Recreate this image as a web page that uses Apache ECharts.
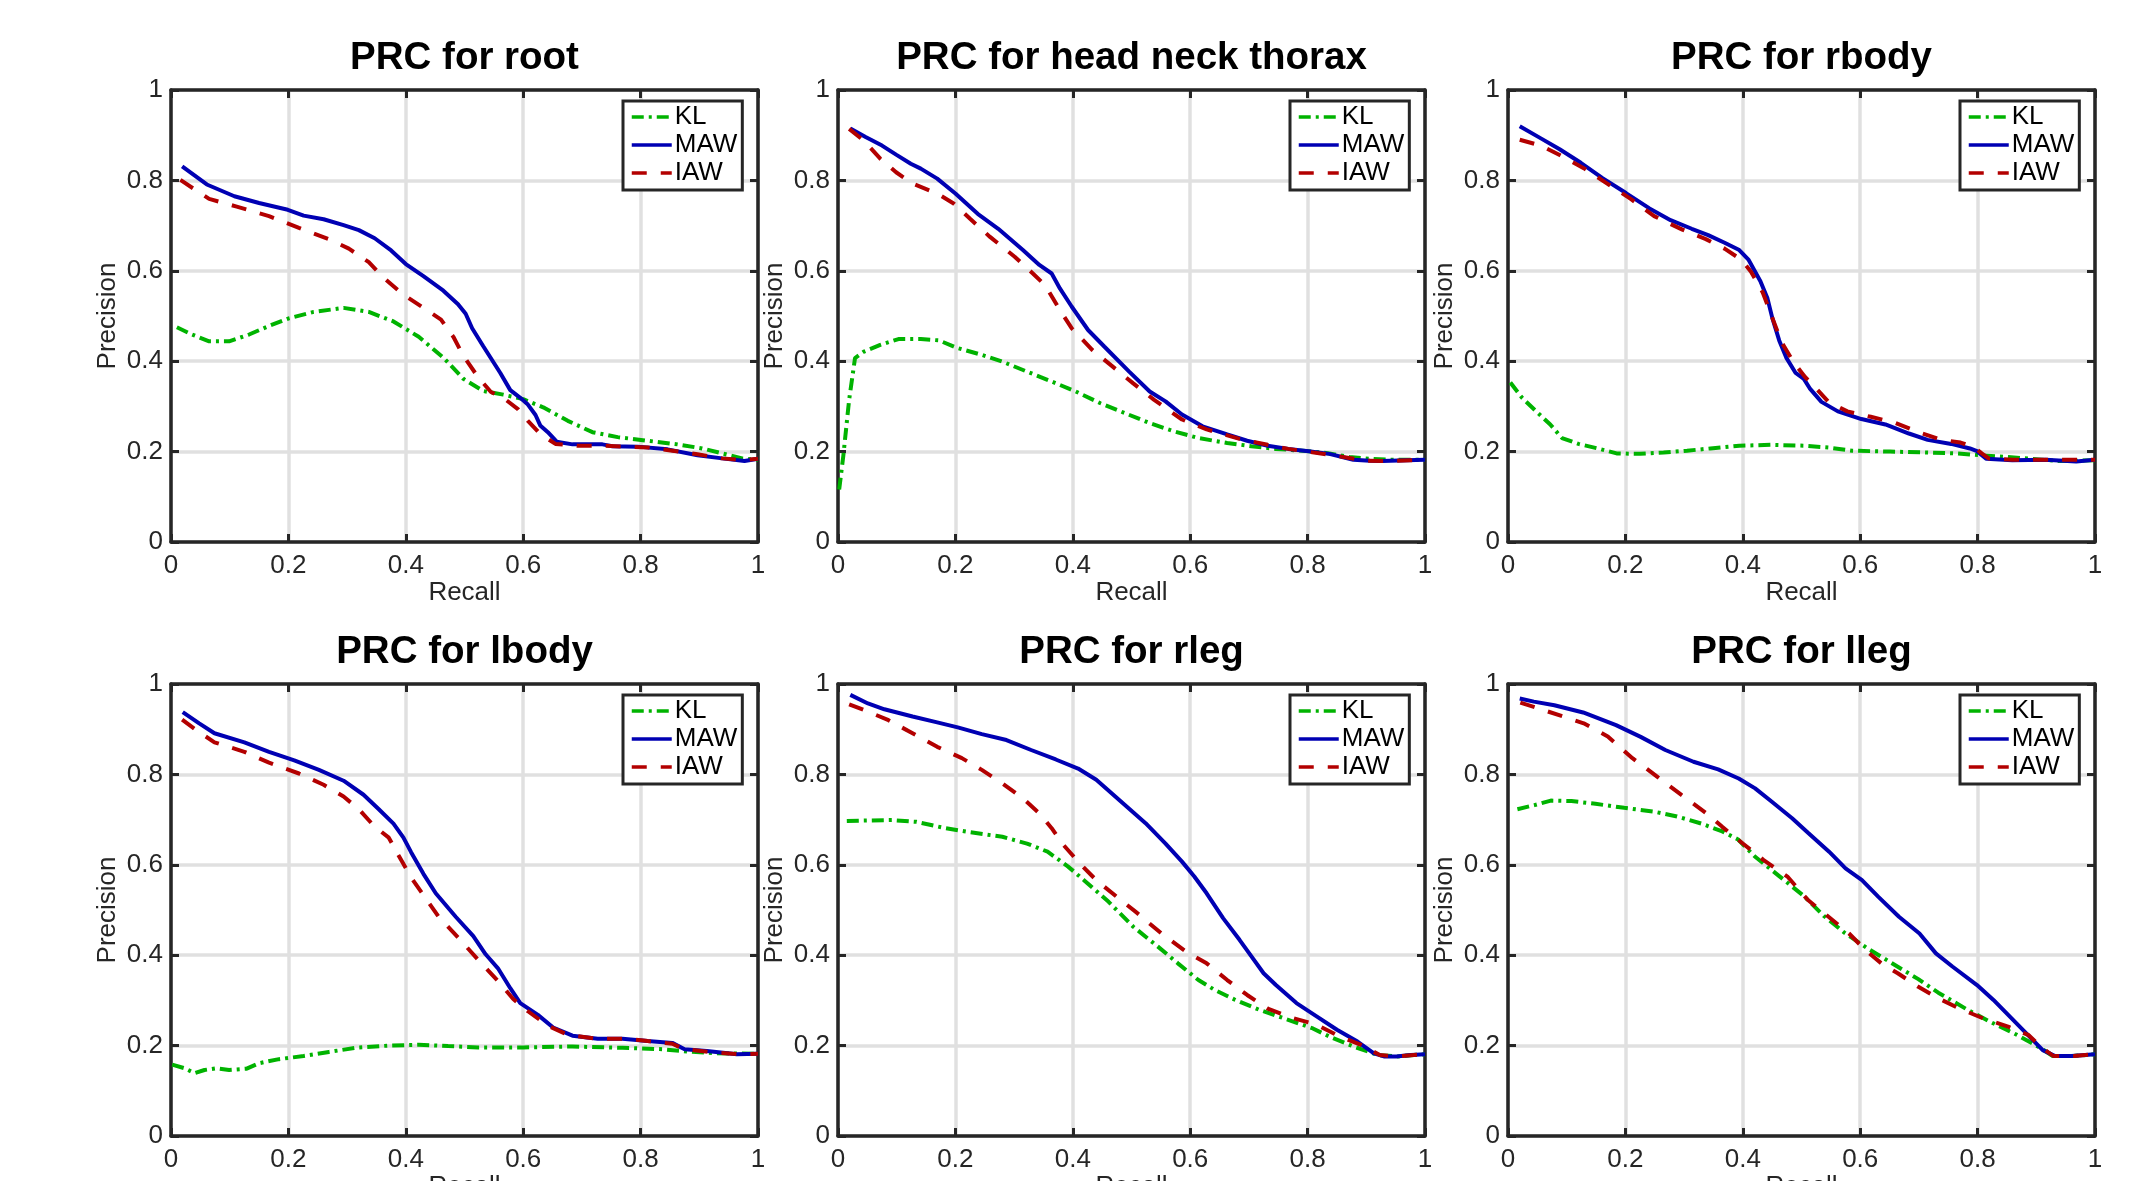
<!DOCTYPE html>
<html>
<head>
<meta charset="utf-8">
<script src="https://cdn.jsdelivr.net/npm/echarts@6/dist/echarts.min.js"></script>
<style>
  html, body { margin: 0; padding: 0; background: #fff; }
  #main { width: 2139px; height: 1181px; }
</style>
</head>
<body>
<div id="main"></div>
<script>
// panel titles, in row order
var titles = ['PRC for root', 'PRC for head neck thorax', 'PRC for rbody',
    'PRC for lbody', 'PRC for rleg', 'PRC for lleg'];
var seriesNames = ['KL', 'MAW', 'IAW'];

// [recall, precision]
var rootKL = [[0.010,0.475],[0.036,0.459],[0.065,0.444],[0.099,0.444],[0.133,0.459],[0.167,0.478],[0.201,0.495],[0.243,0.509],[0.294,0.518],[0.337,0.509],[0.379,0.488],[0.422,0.454],[0.464,0.408],[0.498,0.361],[0.532,0.334],[0.566,0.326],[0.600,0.316],[0.634,0.298],[0.676,0.268],[0.718,0.243],[0.761,0.232],[0.812,0.224],[0.863,0.216],[0.905,0.207],[0.939,0.196],[0.973,0.185],[1.0,0.182]];
var rootMAW = [[0.019,0.831],[0.061,0.791],[0.108,0.765],[0.150,0.750],[0.199,0.735],[0.226,0.722],[0.260,0.714],[0.294,0.701],[0.320,0.690],[0.347,0.672],[0.375,0.645],[0.400,0.615],[0.430,0.588],[0.464,0.556],[0.489,0.526],[0.502,0.505],[0.513,0.473],[0.532,0.433],[0.561,0.374],[0.578,0.336],[0.595,0.319],[0.608,0.304],[0.621,0.281],[0.629,0.258],[0.642,0.243],[0.657,0.222],[0.684,0.216],[0.735,0.216],[0.752,0.212],[0.795,0.211],[0.846,0.205],[0.897,0.192],[0.939,0.185],[0.977,0.179],[1.0,0.184]];
var rootIAW = [[0.016,0.801],[0.065,0.759],[0.112,0.742],[0.167,0.721],[0.218,0.695],[0.269,0.670],[0.303,0.649],[0.337,0.619],[0.362,0.585],[0.396,0.547],[0.430,0.518],[0.460,0.492],[0.481,0.454],[0.498,0.412],[0.523,0.365],[0.545,0.332],[0.566,0.319],[0.591,0.294],[0.608,0.268],[0.629,0.239],[0.655,0.217],[0.693,0.213],[0.735,0.213],[0.812,0.209],[0.854,0.202],[0.897,0.194],[0.939,0.185],[0.973,0.181],[1.0,0.184]];

var hntKL = [[0.002,0.116],[0.009,0.190],[0.019,0.315],[0.029,0.407],[0.044,0.421],[0.072,0.436],[0.103,0.449],[0.141,0.449],[0.172,0.446],[0.204,0.429],[0.245,0.414],[0.280,0.399],[0.322,0.377],[0.364,0.355],[0.405,0.333],[0.447,0.307],[0.489,0.285],[0.531,0.263],[0.572,0.245],[0.614,0.230],[0.663,0.219],[0.704,0.212],[0.746,0.206],[0.802,0.201],[0.837,0.196],[0.871,0.188],[0.906,0.184],[0.941,0.182],[1.0,0.182]];
var hntMAW = [[0.021,0.915],[0.047,0.896],[0.075,0.877],[0.099,0.857],[0.124,0.837],[0.141,0.826],[0.169,0.804],[0.200,0.771],[0.238,0.726],[0.273,0.693],[0.315,0.646],[0.343,0.613],[0.364,0.594],[0.378,0.561],[0.398,0.521],[0.426,0.469],[0.454,0.432],[0.496,0.377],[0.531,0.333],[0.558,0.311],[0.586,0.282],[0.621,0.256],[0.663,0.238],[0.697,0.224],[0.732,0.213],[0.767,0.206],[0.802,0.201],[0.837,0.195],[0.878,0.182],[0.906,0.180],[0.927,0.179],[0.969,0.181],[1.0,0.182]];
var hntIAW = [[0.019,0.914],[0.044,0.888],[0.072,0.848],[0.099,0.818],[0.127,0.793],[0.169,0.771],[0.197,0.749],[0.225,0.715],[0.259,0.675],[0.301,0.631],[0.332,0.594],[0.353,0.568],[0.378,0.513],[0.398,0.473],[0.433,0.425],[0.468,0.388],[0.503,0.351],[0.538,0.315],[0.586,0.271],[0.628,0.249],[0.684,0.228],[0.732,0.215],[0.767,0.206],[0.837,0.193],[0.871,0.186],[0.899,0.180],[0.934,0.179],[0.976,0.181],[1.0,0.182]];

var rbodyKL = [[0.004,0.353],[0.024,0.319],[0.048,0.289],[0.072,0.260],[0.092,0.230],[0.120,0.217],[0.153,0.207],[0.185,0.196],[0.225,0.195],[0.265,0.198],[0.305,0.202],[0.345,0.207],[0.394,0.213],[0.450,0.215],[0.506,0.213],[0.546,0.209],[0.586,0.202],[0.651,0.200],[0.715,0.198],[0.763,0.196],[0.803,0.192],[0.851,0.188],[0.892,0.184],[0.940,0.179],[1.0,0.181]];
var rbodyMAW = [[0.020,0.920],[0.056,0.893],[0.088,0.869],[0.124,0.839],[0.161,0.805],[0.201,0.772],[0.241,0.738],[0.277,0.712],[0.313,0.693],[0.341,0.679],[0.369,0.662],[0.394,0.646],[0.410,0.624],[0.430,0.577],[0.442,0.539],[0.450,0.497],[0.462,0.446],[0.474,0.408],[0.490,0.374],[0.504,0.361],[0.514,0.340],[0.534,0.310],[0.562,0.289],[0.602,0.272],[0.643,0.260],[0.683,0.240],[0.715,0.226],[0.755,0.217],[0.787,0.207],[0.799,0.201],[0.815,0.184],[0.859,0.181],[0.916,0.182],[0.968,0.178],[1.0,0.182]];
var rbodyIAW = [[0.020,0.890],[0.056,0.877],[0.088,0.856],[0.129,0.827],[0.169,0.793],[0.209,0.759],[0.249,0.721],[0.297,0.691],[0.337,0.670],[0.369,0.649],[0.398,0.624],[0.414,0.598],[0.434,0.552],[0.450,0.497],[0.466,0.442],[0.486,0.399],[0.506,0.365],[0.522,0.344],[0.546,0.310],[0.578,0.289],[0.618,0.277],[0.659,0.264],[0.699,0.243],[0.739,0.226],[0.771,0.220],[0.795,0.209],[0.807,0.196],[0.819,0.185],[0.859,0.182],[0.940,0.182],[1.0,0.182]];

var lbodyKL = [[0.002,0.158],[0.023,0.150],[0.040,0.139],[0.057,0.146],[0.078,0.150],[0.099,0.146],[0.129,0.149],[0.150,0.161],[0.184,0.170],[0.226,0.177],[0.269,0.186],[0.320,0.196],[0.371,0.200],[0.422,0.202],[0.472,0.199],[0.523,0.196],[0.600,0.196],[0.684,0.198],[0.769,0.195],[0.837,0.192],[0.880,0.187],[0.930,0.183],[1.0,0.182]];
var lbodyMAW = [[0.020,0.938],[0.048,0.913],[0.074,0.891],[0.125,0.871],[0.167,0.850],[0.210,0.831],[0.252,0.810],[0.294,0.786],[0.328,0.755],[0.354,0.723],[0.379,0.691],[0.396,0.660],[0.409,0.628],[0.430,0.580],[0.451,0.537],[0.485,0.485],[0.515,0.442],[0.536,0.402],[0.557,0.371],[0.578,0.327],[0.595,0.294],[0.625,0.268],[0.651,0.240],[0.684,0.222],[0.727,0.215],[0.769,0.215],[0.812,0.210],[0.854,0.206],[0.875,0.192],[0.913,0.188],[0.964,0.181],[1.0,0.182]];
var lbodyIAW = [[0.019,0.921],[0.044,0.897],[0.074,0.871],[0.125,0.850],[0.167,0.826],[0.218,0.802],[0.260,0.777],[0.294,0.751],[0.320,0.723],[0.345,0.687],[0.371,0.660],[0.388,0.620],[0.409,0.572],[0.430,0.533],[0.456,0.485],[0.490,0.438],[0.523,0.390],[0.557,0.343],[0.583,0.303],[0.608,0.276],[0.642,0.244],[0.676,0.224],[0.727,0.215],[0.778,0.215],[0.812,0.210],[0.854,0.204],[0.875,0.192],[0.930,0.184],[0.973,0.181],[1.0,0.182]];

var rlegKL = [[0.015,0.697],[0.051,0.698],[0.092,0.699],[0.134,0.695],[0.183,0.681],[0.225,0.672],[0.280,0.662],[0.322,0.647],[0.357,0.629],[0.392,0.596],[0.419,0.566],[0.461,0.518],[0.503,0.463],[0.545,0.419],[0.579,0.382],[0.614,0.345],[0.642,0.323],[0.677,0.301],[0.718,0.279],[0.767,0.257],[0.809,0.238],[0.837,0.220],[0.878,0.198],[0.920,0.179],[0.954,0.176],[1.0,0.181]];
var rlegMAW = [[0.021,0.976],[0.051,0.957],[0.079,0.944],[0.127,0.928],[0.169,0.915],[0.204,0.904],[0.245,0.889],[0.287,0.876],[0.329,0.854],[0.371,0.833],[0.409,0.813],[0.440,0.788],[0.482,0.740],[0.524,0.692],[0.558,0.647],[0.586,0.607],[0.607,0.574],[0.628,0.537],[0.656,0.482],[0.684,0.434],[0.704,0.398],[0.725,0.360],[0.746,0.334],[0.781,0.294],[0.816,0.264],[0.850,0.235],[0.885,0.209],[0.913,0.183],[0.930,0.176],[0.951,0.176],[0.976,0.179],[1.0,0.181]];
var rlegIAW = [[0.019,0.955],[0.051,0.939],[0.086,0.920],[0.127,0.891],[0.169,0.861],[0.211,0.836],[0.245,0.810],[0.280,0.780],[0.315,0.747],[0.343,0.714],[0.364,0.681],[0.384,0.644],[0.412,0.603],[0.440,0.566],[0.475,0.529],[0.510,0.493],[0.551,0.448],[0.593,0.408],[0.628,0.382],[0.663,0.345],[0.697,0.312],[0.732,0.282],[0.767,0.264],[0.816,0.246],[0.850,0.223],[0.892,0.201],[0.923,0.179],[0.954,0.176],[1.0,0.181]];

var llegKL = [[0.016,0.723],[0.045,0.732],[0.073,0.742],[0.108,0.741],[0.149,0.735],[0.198,0.726],[0.247,0.718],[0.288,0.707],[0.330,0.691],[0.365,0.674],[0.392,0.656],[0.420,0.619],[0.462,0.575],[0.504,0.531],[0.538,0.487],[0.573,0.450],[0.615,0.413],[0.657,0.380],[0.699,0.347],[0.733,0.317],[0.782,0.280],[0.824,0.251],[0.865,0.225],[0.907,0.195],[0.928,0.177],[0.963,0.177],[1.0,0.181]];
var llegMAW = [[0.020,0.968],[0.044,0.961],[0.079,0.953],[0.128,0.937],[0.184,0.909],[0.226,0.883],[0.268,0.854],[0.316,0.828],[0.358,0.811],[0.393,0.791],[0.421,0.769],[0.449,0.740],[0.484,0.703],[0.512,0.670],[0.547,0.629],[0.575,0.592],[0.603,0.566],[0.631,0.529],[0.666,0.485],[0.701,0.448],[0.729,0.404],[0.757,0.375],[0.799,0.334],[0.827,0.301],[0.855,0.264],[0.883,0.227],[0.911,0.190],[0.932,0.177],[0.960,0.177],[1.0,0.181]];
var llegIAW = [[0.021,0.959],[0.052,0.946],[0.094,0.928],[0.129,0.913],[0.170,0.884],[0.212,0.836],[0.254,0.795],[0.296,0.754],[0.338,0.714],[0.365,0.684],[0.400,0.647],[0.435,0.611],[0.476,0.574],[0.511,0.522],[0.546,0.485],[0.581,0.448],[0.609,0.411],[0.636,0.382],[0.664,0.360],[0.699,0.330],[0.734,0.304],[0.769,0.282],[0.810,0.260],[0.852,0.242],[0.887,0.223],[0.908,0.197],[0.929,0.177],[0.964,0.177],[1.0,0.181]];

var panels = [
    [rootKL, rootMAW, rootIAW],
    [hntKL, hntMAW, hntIAW],
    [rbodyKL, rbodyMAW, rbodyIAW],
    [lbodyKL, lbodyMAW, lbodyIAW],
    [rlegKL, rlegMAW, rlegIAW],
    [llegKL, llegMAW, llegIAW]
];

var chartDom = document.getElementById('main');
var myChart = echarts.init(chartDom);

var FONT = '"Liberation Sans", Arial, Helvetica, sans-serif';
var dark = '#262626';
var colLeft = [171, 838, 1508];
var rowTop = [90, 684];
var W = 587, H = 452;

var lineLook = [
    { color: '#00b300', type: [12, 5, 3, 5] },
    { color: '#0000b3', type: 'solid' },
    { color: '#b30000', type: [15, 14] }
];

var grid = [], xAxis = [], yAxis = [], title = [], legend = [], series = [];

panels.forEach(function (curves, i) {
    var left = colLeft[i % 3];
    var top = rowTop[Math.floor(i / 3)];
    // keep the box fixed even when the axis name runs off the canvas
    grid.push({ left: left, top: top, width: W, height: H, outerBoundsMode: 'none' });

    title.push({
        text: titles[i],
        left: left + W / 2,
        top: top - 51,
        textAlign: 'center',
        padding: 0,
        textStyle: { fontFamily: FONT, fontSize: 38.5, fontWeight: 'bold', color: '#000' }
    });

    legend.push({
        data: seriesNames,
        left: left + 452,
        top: top + 11,
        orient: 'vertical',
        selectedMode: false,
        itemWidth: 40,
        itemHeight: 12,
        itemGap: 2,
        padding: [3, 5, 4, 7],
        borderColor: dark,
        borderWidth: 3,
        backgroundColor: '#fff',
        borderRadius: 0,
        itemStyle: { opacity: 0 },
        lineStyle: { width: 3.5 },
        textStyle: { fontFamily: FONT, fontSize: 26, color: '#000', lineHeight: 26, padding: [0, 0, 0, -2] }
    });

    var common = {
        type: 'value', min: 0, max: 1, interval: 0.2, gridIndex: i,
        axisLine: { show: true, onZero: false, lineStyle: { color: dark, width: 3.5 } },
        axisTick: { show: true, inside: true, length: 8, lineStyle: { color: dark, width: 3 } }
    };

    xAxis.push(Object.assign({}, common, {
        position: 'bottom',
        name: 'Recall',
        nameLocation: 'middle',
        nameGap: 35,
        nameTextStyle: { fontFamily: FONT, fontSize: 26, color: dark },
        axisLabel: { fontFamily: FONT, fontSize: 26, color: dark, margin: 11 },
        splitLine: { show: true, lineStyle: { color: '#e0e0e0', width: 3.5 } }
    }));
    xAxis.push(Object.assign({}, common, {
        position: 'top',
        axisLabel: { show: false },
        splitLine: { show: false }
    }));

    yAxis.push(Object.assign({}, common, {
        position: 'left',
        name: 'Precision',
        nameLocation: 'middle',
        nameGap: 50,
        nameTextStyle: { fontFamily: FONT, fontSize: 26, color: dark },
        axisLabel: { fontFamily: FONT, fontSize: 26, color: dark, margin: 8 },
        splitLine: { show: true, lineStyle: { color: '#e0e0e0', width: 3.5 } }
    }));
    yAxis.push(Object.assign({}, common, {
        position: 'right',
        axisLabel: { show: false },
        splitLine: { show: false }
    }));

    curves.forEach(function (pts, k) {
        series.push({
            name: seriesNames[k],
            type: 'line',
            xAxisIndex: 2 * i,
            yAxisIndex: 2 * i,
            data: pts,
            symbol: 'none',
            silent: true,
            z: 3 + k,
            lineStyle: { color: lineLook[k].color, width: 4, type: lineLook[k].type },
            itemStyle: { color: lineLook[k].color }
        });
    });
});

var option = {
    backgroundColor: '#fff',
    animation: false,
    title: title,
    legend: legend,
    grid: grid,
    xAxis: xAxis,
    yAxis: yAxis,
    series: series
};

option && myChart.setOption(option);
</script>
</body>
</html>
